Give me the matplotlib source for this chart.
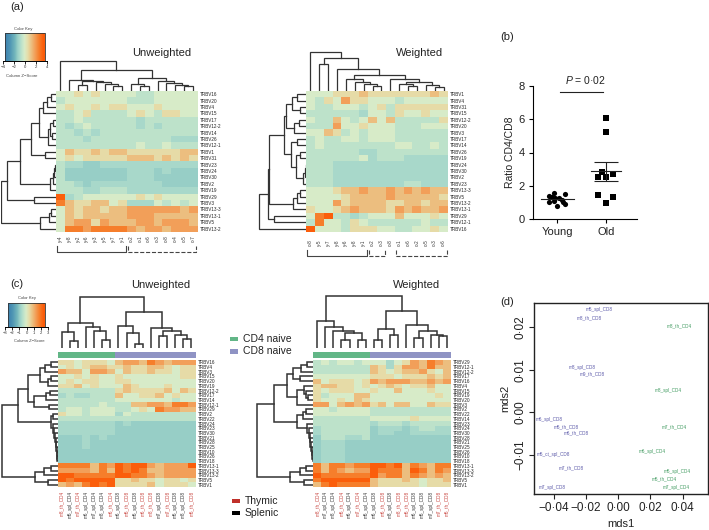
import numpy as np
import matplotlib
matplotlib.use("Agg")
import matplotlib.pyplot as plt
from matplotlib.colors import LinearSegmentedColormap

plt.rcParams["font.family"] = ["Liberation Sans", "DejaVu Sans"]
plt.rcParams["mathtext.fontset"] = "custom"
plt.rcParams["mathtext.it"] = "Liberation Sans:italic"
plt.rcParams["mathtext.rm"] = "Liberation Sans"

W, H = 709, 530

# z score of each colour level used in the heatmap tables below
z_levels = [-1.5, -1.1, -0.7, -0.1, 0.6, 1.3, 2.0, 2.8, 3.6]

# panel a, unweighted
a1_rows = ["TRBV16", "TRBV20", "TRBV4", "TRBV15", "TRBV17", "TRBV12-2", "TRBV14", "TRBV26", "TRBV12-1", "TRBV1",
           "TRBV31", "TRBV23", "TRBV24", "TRBV30", "TRBV2", "TRBV19", "TRBV29", "TRBV3", "TRBV13-3", "TRBV13-1",
           "TRBV5", "TRBV13-2"]
a1_cols = ["y-4", "y-8", "y-2", "y-6", "y-3", "y-5", "y-7", "y-1", "o-2", "o-1", "o-6", "o-3", "o-8", "o-4", "o-5", "o-7"]
a1_vals = [
    [3, 3, 4, 3, 4, 3, 3, 3, 3, 2, 2, 3, 3, 3, 3, 3],
    [2, 3, 3, 3, 3, 3, 3, 3, 2, 2, 2, 3, 3, 3, 3, 3],
    [3, 4, 3, 3, 4, 3, 4, 4, 3, 3, 3, 4, 3, 3, 3, 3],
    [2, 2, 3, 4, 2, 2, 2, 2, 3, 4, 3, 2, 4, 4, 3, 3],
    [2, 2, 3, 2, 2, 2, 2, 2, 2, 1, 2, 2, 2, 2, 2, 2],
    [2, 1, 2, 3, 2, 2, 2, 2, 2, 1, 2, 1, 2, 2, 2, 2],
    [2, 2, 1, 2, 1, 2, 2, 2, 2, 2, 2, 2, 2, 2, 2, 2],
    [2, 2, 2, 1, 2, 2, 2, 2, 2, 2, 2, 2, 2, 1, 1, 1],
    [2, 2, 2, 2, 2, 2, 2, 2, 2, 3, 2, 2, 3, 2, 2, 2],
    [3, 5, 4, 4, 5, 4, 5, 5, 4, 4, 4, 4, 4, 4, 5, 5],
    [3, 4, 3, 4, 4, 4, 4, 4, 5, 5, 5, 4, 5, 4, 5, 4],
    [2, 1, 1, 0, 0, 1, 1, 1, 1, 1, 1, 1, 1, 1, 1, 1],
    [2, 0, 0, 0, 0, 0, 0, 0, 1, 1, 1, 0, 1, 0, 0, 0],
    [2, 0, 0, 0, 0, 0, 0, 0, 1, 1, 1, 0, 0, 0, 0, 0],
    [2, 2, 1, 0, 1, 1, 1, 1, 1, 1, 1, 1, 0, 0, 0, 0],
    [2, 2, 2, 1, 1, 2, 2, 2, 1, 1, 1, 1, 1, 1, 1, 1],
    [8, 1, 2, 3, 3, 3, 3, 3, 3, 4, 3, 4, 3, 3, 3, 3],
    [7, 5, 4, 4, 5, 5, 3, 4, 1, 1, 1, 3, 2, 3, 2, 3],
    [3, 5, 4, 5, 5, 4, 5, 5, 6, 6, 6, 6, 6, 6, 5, 6],
    [3, 5, 4, 5, 5, 5, 5, 5, 6, 6, 6, 5, 5, 5, 5, 5],
    [3, 5, 6, 6, 4, 6, 5, 5, 5, 6, 6, 5, 6, 6, 6, 5],
    [3, 7, 7, 6, 7, 7, 7, 7, 6, 5, 6, 6, 5, 6, 6, 6],
]
a1_top = (30, 0, (21, (11, 0, (10, (6, 0, 0), (9, 0, (7, 0, (5, 0, 0))))),
                  (13, (7, 0, (5, 0, 0)), (10, 0, (8, 0, (6, 0, (5, 0, 0)))))))
a1_side = (55, (49, (36, (25, (17, (13, (9, (5, 0, 0), 0), 0), (8, (6, (3, 0, 0), (4, 0, 0)), 0)), (11, 0, 0)),
                     (6, (3, (2, (1, 0, 0), 0), 0), 0)), (22, 0, 0)),
           (16, (7, (5, 0, 0), 0), 0))
a1_brackets = [(0, 7, "-"), (8, 15, "--")]

# panel a, weighted
a2_rows = ["TRBV1", "TRBV4", "TRBV31", "TRBV15", "TRBV12-2", "TRBV20", "TRBV3", "TRBV17", "TRBV14", "TRBV26", "TRBV19",
           "TRBV24", "TRBV30", "TRBV2", "TRBV23", "TRBV13-3", "TRBV5", "TRBV13-2", "TRBV13-1", "TRBV29", "TRBV12-1",
           "TRBV16"]
a2_cols = ["o-8", "y-5", "y-7", "y-8", "y-6", "y-8", "y-1", "o-2", "o-3", "o-8", "o-1", "o-6", "o-2", "o-5", "o-3", "o-6"]
a2_vals = [
    [3, 3, 3, 4, 4, 4, 5, 4, 4, 4, 4, 4, 4, 4, 5, 4],
    [3, 2, 4, 3, 6, 4, 4, 3, 3, 3, 2, 3, 3, 3, 3, 3],
    [3, 2, 2, 3, 3, 3, 2, 3, 4, 2, 4, 4, 4, 4, 4, 4],
    [2, 2, 2, 2, 2, 2, 1, 3, 3, 2, 4, 3, 3, 4, 3, 3],
    [3, 2, 2, 5, 3, 2, 3, 5, 3, 5, 2, 2, 2, 2, 2, 4],
    [2, 2, 2, 6, 3, 3, 4, 3, 3, 3, 2, 2, 2, 3, 3, 3],
    [3, 3, 5, 4, 2, 3, 2, 3, 3, 3, 2, 2, 2, 2, 2, 2],
    [2, 3, 2, 2, 3, 3, 2, 3, 3, 3, 2, 2, 2, 2, 2, 2],
    [2, 3, 2, 2, 2, 2, 2, 2, 2, 2, 3, 3, 2, 2, 3, 2],
    [2, 2, 2, 2, 2, 2, 1, 1, 2, 2, 2, 2, 2, 2, 2, 2],
    [2, 2, 2, 2, 2, 2, 3, 1, 2, 2, 2, 1, 1, 1, 1, 1],
    [2, 2, 2, 1, 1, 1, 1, 1, 1, 1, 1, 1, 1, 1, 1, 1],
    [2, 2, 2, 1, 1, 1, 1, 1, 1, 1, 1, 1, 1, 1, 1, 1],
    [2, 2, 2, 1, 1, 1, 1, 1, 1, 1, 1, 1, 1, 1, 1, 1],
    [2, 2, 2, 1, 1, 1, 1, 1, 1, 1, 1, 2, 2, 1, 1, 1],
    [3, 3, 3, 4, 5, 5, 6, 5, 5, 6, 5, 6, 5, 6, 5, 5],
    [3, 3, 3, 3, 4, 5, 5, 5, 5, 6, 5, 5, 5, 5, 5, 4],
    [3, 3, 3, 6, 4, 5, 5, 5, 5, 4, 4, 5, 5, 4, 5, 5],
    [4, 3, 3, 4, 5, 6, 5, 5, 5, 4, 6, 5, 6, 5, 5, 6],
    [3, 7, 8, 2, 2, 1, 2, 3, 3, 3, 5, 3, 3, 3, 4, 3],
    [2, 7, 3, 3, 2, 4, 3, 2, 2, 2, 2, 2, 2, 3, 2, 2],
    [8, 3, 3, 3, 2, 4, 4, 4, 3, 3, 2, 2, 3, 3, 4, 3],
]
a2_top = (39, 0, (33, (27, 0, 0), (22, 0, (16, (12, 0, (9, 0, (7, 0, (5, 0, 0)))),
                                           (12, 0, (9, (7, 0, (5, 0, 0)), (6, 0, (4, 0, 0))))))))
a2_side = (47, (38, (37, (22, (20, (14, (9, 0, 0), (6, 0, 0)), (12, (7, 0, 0), 0)),
                          (15, (9, 0, 0), (10, (6, 0, 0), (3, (1, (.5, 0, 0), 0), 0)))),
                     (13, (9, (6, 0, 0), 0), 0)), (32, 0, 0)), 0)
a2_brackets = [(0, 6, "-"), (7, 8, "--"), (10, 15, "--")]

# panel c, unweighted
c1_rows = ["TRBV16", "TRBV4", "TRBV3", "TRBV15", "TRBV20", "TRBV19", "TRBV12-2", "TRBV17", "TRBV14", "TRBV12-1",
           "TRBV29", "TRBV2", "TRBV22", "TRBV24", "TRBV23", "TRBV30", "TRBV21", "TRBV28", "TRBV25", "TRBV10",
           "TRBV26", "TRBV18", "TRBV13-1", "TRBV13-3", "TRBV13-2", "TRBV5", "TRBV1"]
c1_cols = ["m8_th_CD4", "m5_spl_CD4", "m7_th_CD4", "m6_spl_CD4", "m7_spl_CD4", "m8_spl_CD4", "m6_th_CD4",
           "m6_spl_CD8", "m5_th_CD8", "m5_spl_CD8", "m6_th_CD8", "m8_th_CD8", "m7_spl_CD8", "m7_th_CD8",
           "m5_spl_CD8", "m8_spl_CD8", "m5_th_CD8"]
c1_red = [0, 2, 6, 8, 10, 11, 13, 16]
c1_vals = [
    [4, 4, 3, 4, 4, 4, 3, 5, 6, 6, 5, 7, 6, 5, 6, 6, 6],
    [3, 4, 3, 4, 5, 5, 4, 4, 5, 4, 4, 5, 5, 4, 3, 4, 4],
    [6, 5, 5, 3, 6, 6, 5, 3, 5, 4, 4, 5, 4, 4, 3, 4, 4],
    [3, 3, 4, 3, 4, 3, 3, 4, 3, 3, 3, 3, 3, 3, 3, 4, 4],
    [3, 4, 3, 4, 4, 3, 3, 4, 4, 3, 3, 3, 3, 3, 3, 3, 3],
    [4, 4, 5, 3, 4, 3, 3, 3, 5, 4, 3, 3, 3, 4, 3, 3, 3],
    [2, 2, 2, 2, 2, 2, 2, 4, 5, 4, 4, 4, 4, 5, 3, 5, 4],
    [1, 2, 1, 1, 2, 2, 2, 5, 3, 3, 4, 4, 5, 3, 4, 3, 3],
    [2, 2, 2, 2, 2, 2, 2, 3, 3, 3, 3, 3, 3, 3, 2, 3, 3],
    [2, 2, 2, 2, 2, 3, 2, 2, 2, 5, 5, 6, 6, 5, 7, 7, 6],
    [2, 3, 3, 2, 3, 3, 3, 2, 2, 3, 4, 3, 7, 6, 6, 5, 5],
    [4, 3, 3, 2, 3, 3, 3, 1, 3, 2, 2, 2, 2, 2, 2, 2, 2],
    [2, 2, 2, 2, 2, 2, 2, 2, 2, 2, 2, 2, 2, 2, 2, 2, 2],
    [1, 1, 1, 1, 1, 1, 1, 0, 1, 0, 0, 0, 0, 0, 0, 0, 0],
    [1, 1, 1, 1, 1, 1, 1, 0, 0, 0, 0, 0, 0, 0, 0, 0, 0],
    [1, 1, 1, 1, 1, 1, 1, 0, 0, 0, 0, 0, 0, 0, 0, 0, 0],
    [0, 0, 0, 1, 0, 1, 0, 0, 0, 0, 0, 0, 0, 0, 0, 0, 0],
    [0, 0, 0, 1, 0, 0, 0, 0, 0, 0, 0, 0, 0, 0, 0, 0, 0],
    [0, 0, 0, 1, 0, 0, 0, 0, 0, 0, 0, 0, 0, 0, 0, 0, 0],
    [0, 0, 0, 0, 0, 0, 0, 0, 0, 0, 0, 0, 0, 0, 0, 0, 0],
    [0, 0, 0, 0, 0, 0, 0, 0, 0, 0, 0, 0, 0, 0, 0, 0, 0],
    [0, 0, 0, 0, 0, 0, 0, 0, 0, 0, 0, 0, 0, 0, 0, 0, 0],
    [7, 7, 7, 7, 5, 7, 6, 8, 7, 8, 8, 6, 5, 6, 6, 6, 8],
    [6, 6, 6, 6, 5, 7, 5, 8, 7, 8, 7, 5, 5, 6, 6, 6, 6],
    [8, 8, 7, 7, 7, 7, 7, 8, 8, 7, 7, 6, 5, 6, 6, 6, 6],
    [8, 7, 8, 8, 8, 8, 8, 4, 4, 5, 4, 4, 3, 4, 4, 3, 4],
    [5, 6, 5, 7, 8, 7, 8, 4, 4, 4, 4, 5, 3, 4, 4, 4, 3],
]
c1_top = (51, (25, (16, 0, (7, 0, 0)), (21, 0, (17, 0, (8, 0, 0)))),
          (36, (22, 0, (15, 0, (4, 0, 0))), (20, 0, (17, (12, 0, 0), (13, 0, (9, 0, 0))))))
c1_side = (56, (40, (30, (18, (13, (7, 0, 0), 0), (10, (7, 0, 0), 0)), (24, (12, (8, 0, 0), 0), (9, 0, 0))),
                (7, (5, 0, 0), (5, 0, (4, 0, (3, 0, (2, 0, (1.5, 0, (1, 0, (.7, 0, (.4, 0, 0))))))))),
                ), (23, (14, (7, 0, 0), 0), (10, 0, 0)))

# panel c, weighted
c2_rows = ["TRBV29", "TRBV12-1", "TRBV12-2", "TRBV17", "TRBV16", "TRBV4", "TRBV15", "TRBV19", "TRBV20", "TRBV3",
           "TRBV2", "TRBV22", "TRBV14", "TRBV23", "TRBV24", "TRBV30", "TRBV28", "TRBV21", "TRBV25", "TRBV26",
           "TRBV10", "TRBV18", "TRBV13-1", "TRBV13-3", "TRBV13-2", "TRBV5", "TRBV1"]
c2_cols = ["m8_th_CD4", "m7_spl_CD4", "m8_spl_CD4", "m5_th_CD4", "m6_spl_CD4", "m7_th_CD4", "m5_spl_CD4",
           "m6_spl_CD8", "m6_th_CD8", "m8_spl_CD8", "m8_th_CD8", "m5_th_CD8", "m6_spl_CD8", "m5_spl_CD8",
           "m7_spl_CD8", "m7_th_CD8", "m5_th_CD8"]
c2_red = [0, 3, 5, 8, 10, 11, 15, 16]
c2_vals = [
    [2, 3, 2, 3, 3, 2, 3, 3, 3, 1, 3, 4, 6, 5, 7, 6, 5],
    [2, 2, 2, 2, 2, 2, 2, 5, 4, 1, 4, 6, 6, 5, 7, 5, 5],
    [2, 2, 2, 2, 2, 2, 2, 5, 4, 3, 4, 5, 5, 6, 4, 3, 5],
    [3, 3, 3, 3, 3, 3, 3, 4, 4, 4, 3, 4, 4, 4, 5, 4, 5],
    [5, 3, 4, 4, 4, 3, 4, 6, 5, 6, 6, 6, 5, 5, 6, 5, 6],
    [4, 5, 5, 4, 4, 3, 4, 3, 4, 5, 4, 3, 4, 4, 5, 3, 3],
    [4, 3, 4, 4, 4, 3, 3, 4, 3, 3, 5, 3, 3, 3, 4, 3, 3],
    [4, 2, 3, 3, 3, 5, 5, 3, 3, 3, 3, 3, 3, 3, 3, 4, 3],
    [4, 3, 3, 4, 3, 5, 4, 3, 3, 3, 3, 3, 3, 3, 3, 3, 3],
    [6, 6, 3, 5, 6, 5, 6, 4, 5, 3, 5, 5, 3, 3, 5, 4, 4],
    [3, 3, 2, 3, 3, 3, 3, 2, 2, 2, 2, 2, 2, 2, 2, 2, 2],
    [3, 3, 3, 3, 3, 3, 3, 2, 2, 2, 2, 2, 2, 2, 2, 2, 2],
    [2, 2, 2, 2, 2, 2, 2, 3, 3, 3, 3, 3, 4, 3, 3, 3, 3],
    [2, 2, 2, 2, 2, 2, 2, 1, 2, 2, 2, 1, 2, 2, 2, 2, 2],
    [1, 2, 2, 2, 2, 2, 2, 0, 1, 1, 1, 0, 1, 2, 2, 1, 1],
    [1, 2, 2, 2, 2, 2, 2, 0, 1, 1, 0, 0, 1, 1, 1, 1, 1],
    [0, 2, 2, 2, 1, 1, 2, 0, 0, 0, 0, 0, 0, 0, 0, 0, 0],
    [0, 1, 1, 1, 0, 0, 0, 0, 0, 0, 0, 0, 0, 0, 0, 0, 0],
    [0, 1, 1, 1, 0, 0, 0, 0, 0, 0, 0, 0, 0, 0, 0, 0, 0],
    [0, 1, 1, 1, 0, 0, 0, 0, 0, 0, 0, 0, 0, 0, 0, 0, 0],
    [0, 1, 1, 1, 0, 0, 0, 0, 0, 0, 0, 0, 0, 0, 0, 0, 0],
    [0, 1, 1, 1, 0, 0, 0, 0, 0, 0, 0, 0, 0, 0, 0, 0, 0],
    [7, 5, 7, 7, 6, 7, 7, 8, 8, 7, 8, 5, 7, 6, 5, 7, 7],
    [7, 5, 7, 6, 5, 6, 6, 8, 7, 7, 7, 5, 8, 7, 5, 7, 6],
    [8, 7, 7, 7, 7, 7, 7, 8, 6, 7, 7, 5, 7, 6, 5, 6, 5],
    [7, 8, 8, 8, 8, 8, 8, 5, 4, 4, 4, 5, 4, 3, 4, 4, 5],
    [5, 7, 8, 7, 7, 7, 7, 5, 4, 4, 4, 4, 4, 3, 4, 4, 4],
]
c2_top = (52, (27, 0, (21, 0, (17, 0, (15, (8, 0, 0), (8, 0, 0))))),
          (37, (19, (8, 0, 0), (13, 0, 0)), (23, 0, (17, (10, 0, 0), (13, 0, (12, 0, 0))))))
c2_side = (56, (39, (26, (20, (12, (6, 0, 0), 0), (13, 0, 0)), (16, (9, 0, (7, 0, (5, 0, 0))), 0)),
                (16, (10, (7, 0, 0), 0), (6, 0, (4, 0, (3.5, 0, (3, 0, (2.5, 0, (1.5, 0, (1, 0, (.5, 0, 0))))))))),
                ), (23, (13, (7, 0, 0), 0), (9, 0, 0)))

# panel b
young_vals = [1.58, 1.40, 1.48, 1.24, 1.24, 1.04, 1.08, 1.14, 0.90, 0.78, 1.34, 1.04]
young_dx = [-.075, -.158, .158, .041, -.048, -.158, -.068, .089, .158, 0, -.116, .123]
old_vals = [6.07, 5.25, 2.85, 2.55, 2.55, 2.70, 1.44, 1.30, 0.98]
old_dx = [0, 0, -.075, -.164, 0, .151, -.164, .151, 0]
young_mean, old_mean = 1.2, 2.87
old_sem = 0.58
p_y = 7.62

# panel d
cd8_names = ["m5_spl_CD8", "m8_th_CD8", "m8_spl_CD8", "m9_th_CD8", "m6_spl_CD8", "m5_th_CD8", "m6_th_CD8",
             "m5_ct_spl_CD8", "m7_th_CD8", "m7_spl_CD8"]
cd8_x = [-.0122, -.0178, -.0226, -.0164, -.0427, -.0325, -.0261, -.0406, -.0294, -.0410]
cd8_y = [.0240, .0222, .01055, .0091, -.0017, -.0035, -.0048, -.0098, -.0129, -.0175]
cd4_names = ["m8_th_CD4", "m8_spl_CD4", "m7_th_CD4", "m6_spl_CD4", "m5_spl_CD4", "m5_th_CD4", "m7_spl_CD4"]
cd4_x = [.0381, .0309, .0346, .0213, .0365, .0284, .0359]
cd4_y = [.0203, .0052, -.0034, -.0091, -.0139, -.0155, -.0175]

key_colors = [(-4, "#3b7fae"), (-3, "#4f96b4"), (-2, "#74b7bc"), (-1.5, "#97cec6"), (-1.1, "#a9d9cb"),
              (-0.7, "#bde2cb"), (-0.1, "#d8ecc8"), (0.6, "#e6dca8"), (1.3, "#ecbf80"), (2.0, "#f2a05a"),
              (2.8, "#f67f2c"), (3.6, "#fb5f0c"), (4, "#fb5a08")]
cmap = LinearSegmentedColormap.from_list("key", [((z + 4) / 8, c) for z, c in key_colors], N=512)

fig = plt.figure(figsize=(W / 100, H / 100), dpi=100)
DEND = "#333333"
RED = "#c8423c"


def px_axes(x0, y0, x1, y1, **kw):
    return fig.add_axes([x0 / W, 1 - y1 / H, (x1 - x0) / W, (y1 - y0) / H], **kw)


def ftext(x, y, s, **kw):
    kw.setdefault("ha", "left")
    kw.setdefault("va", "center")
    fig.text(x / W, 1 - y / H, s, **kw)


def walk(node, ax, side, lw, counter):
    # returns (leaf position, height), draws the tree as it goes
    if node == 0:
        counter[0] += 1
        return counter[0] - 1, 0
    h, left, right = node
    p1, h1 = walk(left, ax, side, lw, counter)
    p2, h2 = walk(right, ax, side, lw, counter)
    xs, ys = [p1, p1, p2, p2], [h1, h, h, h2]
    if side:
        ax.plot(ys, xs, color=DEND, lw=lw, solid_joinstyle="miter")
    else:
        ax.plot(xs, ys, color=DEND, lw=lw, solid_joinstyle="miter")
    return (p1 + p2) / 2, h


def heatmap(box, vals, rows, cols, top, side, top_h, side_w, lw, row_fs=3.3, col_red=None, col_fs=3.3,
            brackets=None, bracket_y=20.6, strip=None, label_pad=3.5):
    x0, y0, x1, y1 = box
    z = np.array(z_levels)[np.array(vals)]
    nrow, ncol = z.shape
    ax = px_axes(x0, y0, x1, y1)
    ax.imshow(z, cmap=cmap, vmin=-4, vmax=4, aspect="auto", interpolation="nearest")
    ax.set_xticks([])
    ax.yaxis.tick_right()
    ax.set_yticks(range(nrow), rows, fontsize=row_fs, color="#222222")
    ax.tick_params(axis="y", length=0, pad=1.5)
    for s in ax.spines.values():
        s.set_visible(False)
    rh = (y1 - y0) / nrow
    for i, c in enumerate(cols):
        col = RED if col_red is not None and i in col_red else "#333333"
        ax.text(i, nrow - 0.5 + label_pad / rh, c, rotation=90, ha="center", va="top",
                fontsize=col_fs, color=col)
    if brackets:
        for a, b, ls in brackets:
            yb = nrow - 0.5 + bracket_y / rh
            yt = yb - 6 / rh
            ax.plot([a - .4, a - .4, b + .4, b + .4], [yt, yb, yb, yt], color="#444444", lw=0.8, ls=ls,
                    clip_on=False, scaley=False, scalex=False)
    gap = 0
    if strip:
        sy0, sy1, ncd4 = strip
        st = px_axes(x0, sy0, x1, sy1)
        st.imshow([[0] * ncd4 + [1] * (ncol - ncd4)], cmap=LinearSegmentedColormap.from_list("s", ["#62b687", "#8f93c4"]),
                  aspect="auto", interpolation="nearest")
        st.axis("off")
        gap = y0 - sy1 + (sy1 - sy0) + 3.5
    # column tree
    dt = px_axes(x0, y0 - gap - top_h, x1, y0 - gap)
    dt.set_xlim(-.5, ncol - .5)
    dt.set_ylim(0, top_h)
    walk(top, dt, False, lw, [0])
    dt.axis("off")
    # row tree
    ds = px_axes(x0 - side_w, y0, x0, y1)
    ds.set_xlim(side_w, 0)
    ds.set_ylim(nrow - .5, -.5)
    walk(side, ds, True, lw, [0])
    ds.axis("off")


def color_key(box, tick_x0, tick_x1, ticks, title_y, title_x, label_y, center, fs):
    x0, y0, x1, y1 = box
    vmax = ticks[-1]
    ax = px_axes(tick_x0, y0, tick_x1, y1)
    ax.set_xlim(-vmax, vmax)
    ax.set_ylim(0, 1)
    lim = (x1 - x0) / (tick_x1 - tick_x0) * vmax
    grad = np.linspace(-4, 4, 256)[None, :]
    ax.imshow(grad, cmap=cmap, vmin=-4, vmax=4, extent=(-lim, lim, 0, 1), aspect="auto")
    ax.plot([-lim, -lim, lim, lim], [0, 1, 1, 0], color="#333333", lw=0.6)
    ax.set_xlim(-vmax, vmax)
    for s in ["top", "left", "right"]:
        ax.spines[s].set_visible(False)
    ax.spines["bottom"].set_linewidth(0.7)
    ax.set_yticks([])
    ax.set_xticks(ticks, [str(t).replace("-", "\u2212") for t in ticks], fontsize=fs, color="#333333")
    ax.tick_params(axis="x", length=2, width=0.6, pad=1)
    ftext(title_x, title_y, "Color Key", fontsize=fs, color="#444444", ha="center")
    ftext(center, label_y, "Column Z\u2212Score", fontsize=fs, color="#444444", ha="center")


heatmap((56, 91, 197.3, 231.7), a1_vals, a1_rows, a1_cols, a1_top, a1_side, 32, 55, 0.9, brackets=a1_brackets)
heatmap((306, 91, 448, 231.7), a2_vals, a2_rows, a2_cols, a2_top, a2_side, 41, 48, 0.9, brackets=a2_brackets,
        bracket_y=24, label_pad=8)
heatmap((57.7, 360, 195.5, 487), c1_vals, c1_rows, c1_cols, c1_top, c1_side, 53, 57, 1.1, col_red=c1_red,
        strip=(351.7, 357.7, 7), label_pad=4)
heatmap((313, 360, 451, 487), c2_vals, c2_rows, c2_cols, c2_top, c2_side, 54, 57, 1.1, col_red=c2_red,
        strip=(351.7, 357.7, 7), label_pad=4)

color_key((5.3, 32.7, 45, 61), 3.3, 47, [-4, -2, 0, 2, 4], 28.7, 23, 76, 21.5, 3.1)
color_key((8.3, 302.7, 45, 327.3), 5, 48, [-3, -2, -1, 0, 1, 2, 3], 298, 27, 341, 29, 3.0)

# panel b
ax = px_axes(533.3, 86, 636.7, 219)
ax.set_xlim(-.49, 1.63)
ax.set_ylim(0, 8)
ax.scatter(young_dx, young_vals, s=14, c="black", marker="o", linewidths=0)
ax.scatter(1 + np.array(old_dx), old_vals, s=14, c="black", marker="s", linewidths=0)
ax.plot([-.335, .342], [young_mean, young_mean], color="#222222", lw=0.8)
ax.plot([1 - .31, 1.30], [old_mean, old_mean], color="#222222", lw=0.8)
ax.errorbar([1], [old_mean], yerr=[old_sem], color="#222222", lw=0.8, capsize=8.5, capthick=0.8)
ax.plot([.055, .945], [p_y, p_y], color="#222222", lw=0.8, clip_on=False)
ax.text(.59, 8.0, "$P$ = 0\u00b702", ha="center", va="bottom", fontsize=7.5, color="#222222")
for s in ["top", "right"]:
    ax.spines[s].set_visible(False)
for s in ["left", "bottom"]:
    ax.spines[s].set_linewidth(0.8)
ax.set_xticks([0, 1], ["Young", "Old"], fontsize=8, color="#222222")
ax.set_yticks([0, 2, 4, 6, 8], ["0", "2", "4", "6", "8"], fontsize=8, color="#222222")
ax.tick_params(length=3, width=0.8, pad=3)
ax.set_ylabel("Ratio CD4/CD8", fontsize=7.5, color="#222222", labelpad=3)

# panel d
ax = px_axes(533.7, 303.3, 707.7, 494.3)
ax.set_xlim(-.0526, .0556)
ax.set_ylim(-.0192, .02555)
for n, x, y in zip(cd8_names, cd8_x, cd8_y):
    ax.text(x, y, n, color="#5a58a8", fontsize=3.3, ha="center", va="center")
for n, x, y in zip(cd4_names, cd4_x, cd4_y):
    ax.text(x, y, n, color="#3f9a5f", fontsize=3.3, ha="center", va="center")
xt = [-.04, -.02, 0, .02, .04]
yt = [-.01, 0, .01, .02]
ax.set_xticks(xt, ["\u22120\u00b704", "\u22120\u00b702", "0\u00b700", "0\u00b702", "0\u00b704"], fontsize=8.5)
ax.set_yticks(yt, ["\u22120\u00b701", "0\u00b700", "0\u00b701", "0\u00b702"], fontsize=8.5, rotation=90, va="center")
ax.tick_params(length=3.5, width=0.8, pad=2, color="#222222", labelcolor="#222222")
for s in ax.spines.values():
    s.set_linewidth(1.0)
    s.set_color("#222222")
ax.set_xlabel("mds1", fontsize=8, color="#222222", labelpad=4)
ax.set_ylabel("mds2", fontsize=8, color="#222222", labelpad=3)

# titles and panel letters
ftext(162, 53, "Unweighted", fontsize=8, ha="center", color="#222222")
ftext(420, 53, "Weighted", fontsize=8, ha="center", color="#222222")
ftext(161, 285, "Unweighted", fontsize=8, ha="center", color="#222222")
ftext(417, 285, "Weighted", fontsize=8, ha="center", color="#222222")
ftext(10, 7, "(a)", fontsize=8, color="#222222")
ftext(500, 37, "(b)", fontsize=8, color="#222222")
ftext(10, 284, "(c)", fontsize=8, color="#222222")
ftext(500, 302, "(d)", fontsize=8, color="#222222")

# legends in the middle
for y, col, lab in [(339, "#62b687", "CD4 naive"), (351.5, "#8f93c4", "CD8 naive"),
                    (501, "#c0302a", "Thymic"), (513, "#000000", "Splenic")]:
    x = 230 if "CD" in lab else 232
    fig.patches.append(plt.Rectangle((x / W, 1 - (y + 2.3) / H), 8 / W, 4.6 / H, transform=fig.transFigure,
                                     color=col, lw=0, figure=fig))
    ftext(243 if "CD" in lab else 245, y, lab, fontsize=7.5, color="#222222")

fig.savefig("out.png", dpi=100)
